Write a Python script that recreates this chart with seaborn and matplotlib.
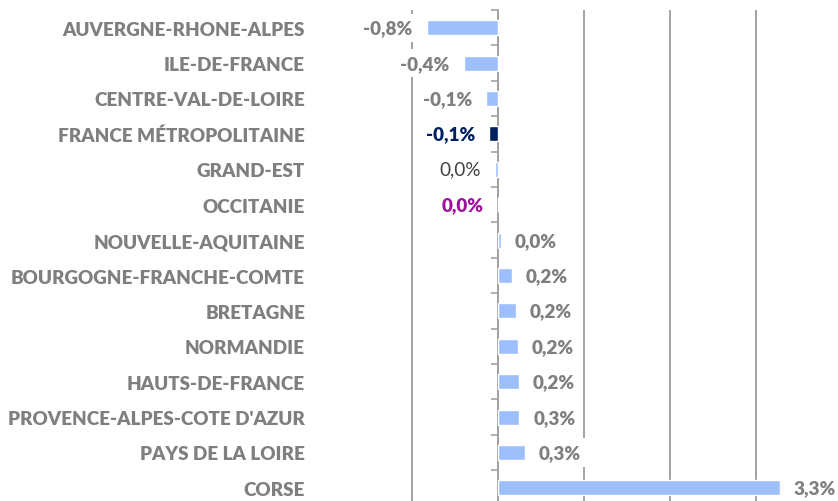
import matplotlib
matplotlib.use("Agg")
import matplotlib.pyplot as plt
import seaborn as sns
import pandas as pd

# data (% change)
regions = [
    "AUVERGNE-RHONE-ALPES", "ILE-DE-FRANCE", "CENTRE-VAL-DE-LOIRE",
    "FRANCE MÉTROPOLITAINE", "GRAND-EST", "OCCITANIE", "NOUVELLE-AQUITAINE",
    "BOURGOGNE-FRANCHE-COMTE", "BRETAGNE", "NORMANDIE", "HAUTS-DE-FRANCE",
    "PROVENCE-ALPES-COTE D'AZUR", "PAYS DE LA LOIRE", "CORSE",
]
values = [-0.83, -0.40, -0.14, -0.10, -0.04, -0.002, 0.03,
          0.16, 0.21, 0.23, 0.24, 0.25, 0.31, 3.28]
labels = ["-0,8%", "-0,4%", "-0,1%", "-0,1%", "0,0%", "0,0%", "0,0%",
          "0,2%", "0,2%", "0,2%", "0,2%", "0,3%", "0,3%", "3,3%"]

light_blue = "#9dbffc"
grey = "#7f7f7f"
bar_colors = [light_blue] * len(regions)
bar_colors[3] = "#002060"
label_colors = [grey] * len(regions)
label_colors[3] = "#002060"
label_colors[4] = "#404040"
label_colors[5] = "#a0129e"
label_weights = ["heavy"] * len(regions)
label_weights[4] = "normal"

df = pd.DataFrame({"region": regions, "value": values})

sns.set_style("white")
plt.rcParams["font.family"] = ["Lato", "DejaVu Sans"]
fsize = 13.6

fig = plt.figure(figsize=(8.38, 5.02), dpi=100)
ax = fig.add_axes([330 / 838, -4.6 / 502, 508 / 838, 495.6 / 502])

sns.barplot(data=df, x="value", y="region", hue="region", palette=bar_colors,
            orient="h", width=0.42, legend=False, saturation=1, ax=ax)

ax.set_xlim(-1.953, 3.953)
ax.set_xticks([-1, 0, 1, 2, 3])
ax.set_xticklabels([])
ax.tick_params(axis="x", length=0)
ax.grid(axis="x", color="#a3a3a3", linewidth=1.4)
ax.grid(axis="y", visible=False)
ax.set_axisbelow(True)
for s in ax.spines.values():
    s.set_visible(False)
ax.set_xlabel("")
ax.set_ylabel("")
ax.tick_params(axis="y", length=0, pad=18, labelsize=fsize, labelcolor=grey)
for t in ax.get_yticklabels():
    t.set_fontweight("heavy")

# zero axis with ticks between categories
zero_pos = (0 - ax.get_xlim()[0]) / (ax.get_xlim()[1] - ax.get_xlim()[0])
sec = ax.secondary_yaxis(zero_pos)
sec.set_yticks([i - 0.5 for i in range(len(regions) + 1)])
sec.set_yticklabels([])
sec.tick_params(axis="y", length=5, width=1.2, color="#a3a3a3", direction="out")
sec.spines["left"].set_color("#a3a3a3")
sec.spines["left"].set_linewidth(1.4)

for i, (v, lab) in enumerate(zip(values, labels)):
    off = 10 if v >= 0 else -10
    ax.annotate(lab, (v, i), xytext=(off, 0), textcoords="offset points",
                ha="left" if v >= 0 else "right", va="center",
                fontsize=fsize, color=label_colors[i], fontweight=label_weights[i],
                bbox=dict(boxstyle="square,pad=0.3", fc="white", ec="none"),
                zorder=5)

fig.savefig("out.png", dpi=100)
